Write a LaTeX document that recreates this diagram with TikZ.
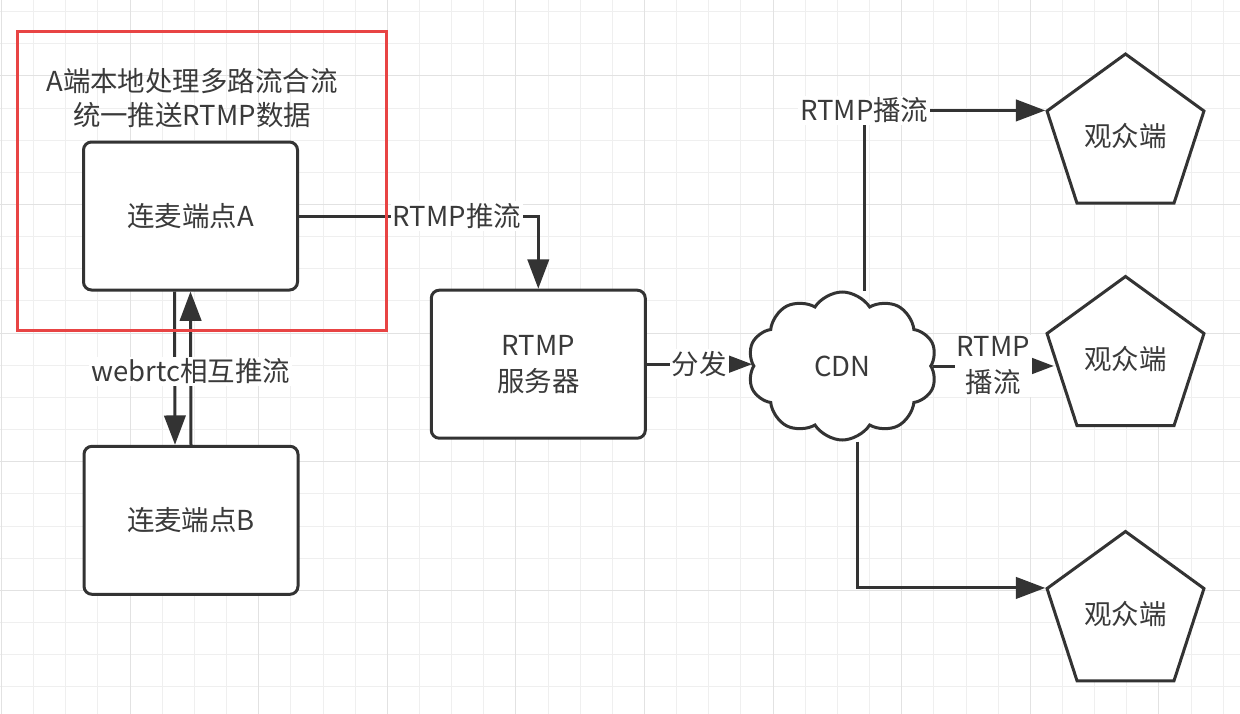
\documentclass[tikz,border=0pt]{standalone}
\usepackage{fontspec}
\setmainfont{Noto Sans CJK SC}
\usetikzlibrary{shapes.geometric,shapes.symbols,arrows.meta,calc}
\definecolor{ink}{HTML}{333333}
\definecolor{txt}{HTML}{3A3A3A}
\definecolor{gridminor}{HTML}{EFEFEF}
\definecolor{gridmajor}{HTML}{E2E2E2}
\definecolor{redframe}{HTML}{E84444}
\begin{document}
\begin{tikzpicture}[x=0.75pt,y=-0.75pt,
  every node/.style={font=\fontsize{20.6}{27}\selectfont, text=txt},
  boxnode/.style={draw=ink, line width=2.25pt, rounded corners=6pt, fill=white,
    minimum width=160.5pt, minimum height=111pt, align=center, inner sep=2pt},
  viewer/.style={draw=ink, line width=2.25pt, fill=white, regular polygon,
    regular polygon sides=5, minimum size=123.75pt, inner sep=0pt},
  cloudnode/.style={draw=ink, line width=2.25pt, fill=white, cloud, cloud puffs=10,
    cloud puff arc=115, cloud ignores aspect, minimum width=142pt, minimum height=111pt, inner sep=0pt},
  arr/.style={draw=ink, line width=2.25pt, -{Triangle[length=22pt,width=16pt]}},
  lbl/.style={fill=white, inner sep=1.5pt, align=center},
]
\useasboundingbox (0,0) rectangle (1240,714);
\fill[white] (0,0) rectangle (1240,714);
% grid
\foreach \i in {0,...,38} {
  \draw[gridminor, line width=0.75pt] ({1.5+32.15*\i},0) -- ({1.5+32.15*\i},714);
}
\foreach \j in {0,...,22} {
  \draw[gridminor, line width=0.75pt] (0,{11.6+32.15*\j}) -- (1240,{11.6+32.15*\j});
}
\foreach \i in {0,...,9} {
  \draw[gridmajor, line width=0.75pt] ({1.5+128.6*\i},0) -- ({1.5+128.6*\i},714);
}
\foreach \j in {0,...,4} {
  \draw[gridmajor, line width=0.75pt] (0,{75.9+128.6*\j}) -- (1240,{75.9+128.6*\j});
}

% nodes
\node[align=center, font=\fontsize{20.6}{25}\selectfont] (title) at (192,98) {A端本地处理多路流合流\\统一推送RTMP数据};
\node[boxnode] (a) at (190.5,216) {连麦端点A};
\node[boxnode] (b) at (191,520.3) {连麦端点B};
\node[boxnode] (srv) at (538.3,364.2) {RTMP\\服务器};
\node[cloudnode] (cdn) at (842.3,366) {CDN};
\node[viewer] (p1) at (1125.5,136.5) {观众端};
\node[viewer] (p2) at (1125.5,359) {观众端};
\node[viewer] (p3) at (1125.5,614) {观众端};

% connectors
\draw[arr] ([xshift=-12pt]a.south) -- ([xshift=-12pt]b.north);
\draw[arr] (b.north) -- node[lbl, pos=0.48]{webrtc相互推流} (a.south);
\draw[arr] (a.east) -| node[lbl, pos=0.33]{RTMP推流} (srv.north);
\draw[arr] (srv.east) -- node[lbl]{分发} (srv.east -| cdn.west);
\draw[arr] (cdn.east) -- node[lbl]{RTMP\\播流} (cdn.east -| p2.west);
\draw[arr] ($(cdn.north)+(22,0)$) |- node[lbl]{RTMP播流} (p1.corner 2);
\draw[arr] ($(cdn.south)+(15,0)$) |- (p3.corner 2);

% red frame
\node[draw=redframe, line width=2.25pt, minimum width=277pt, minimum height=224.25pt, inner sep=0pt] (frame) at (202,180.5) {};
\end{tikzpicture}
\end{document}
